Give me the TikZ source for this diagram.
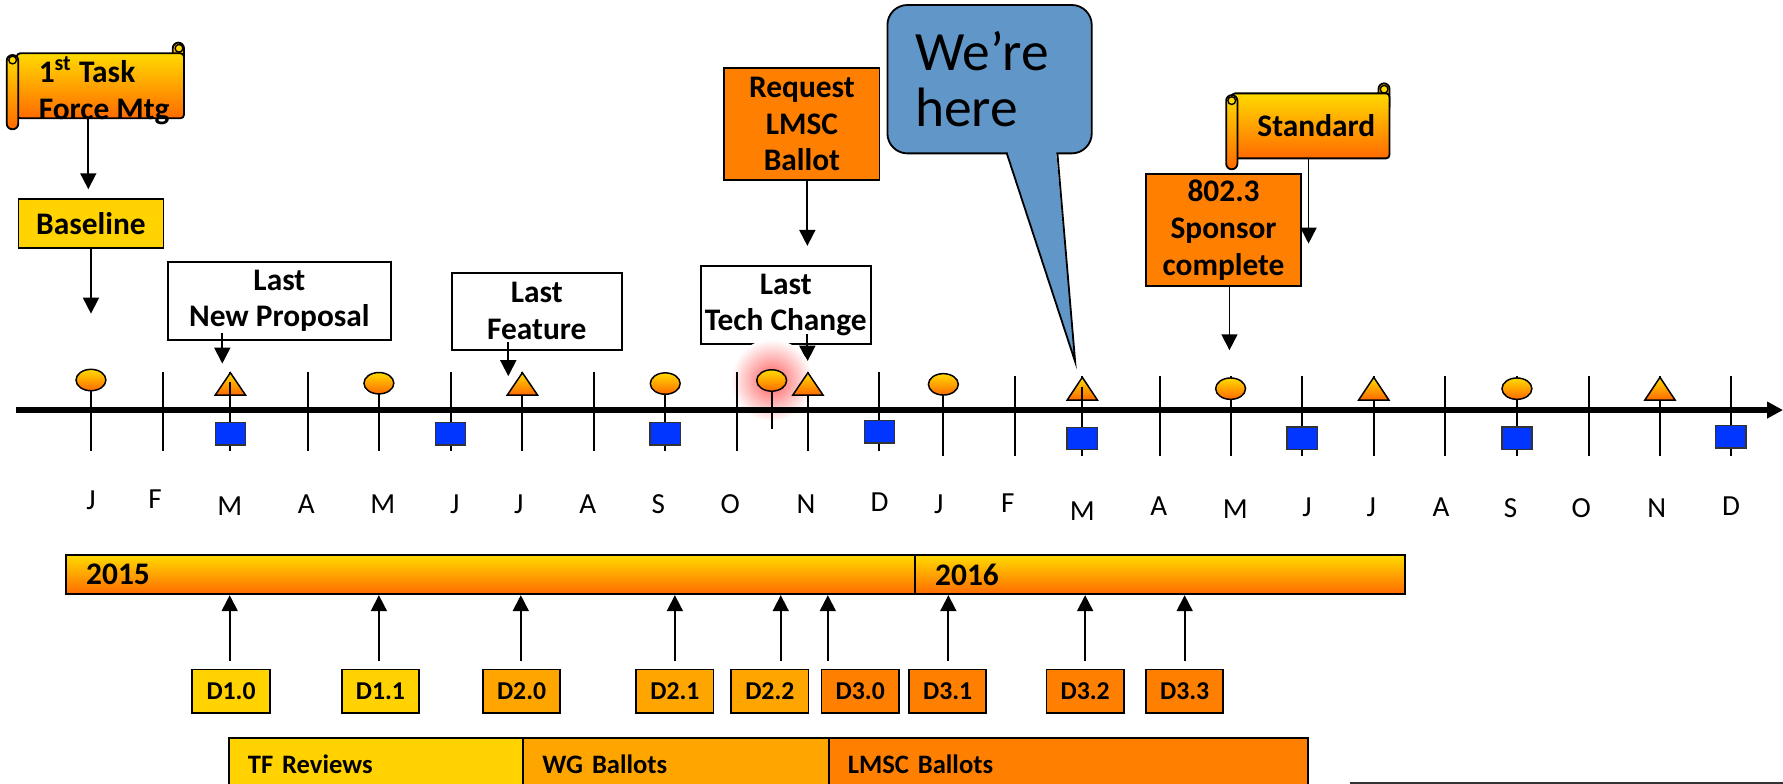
\documentclass[tikz,border=0pt]{standalone}
\usepackage{fontspec}
\setmainfont{Carlito}
\usetikzlibrary{arrows.meta, shapes.geometric, positioning}

\definecolor{gold}{HTML}{FFD200}
\definecolor{amber}{HTML}{FFA500}
\definecolor{tangerine}{HTML}{FF7F00}
\definecolor{rolltop}{HTML}{FFDA00}
\definecolor{rollbot}{HTML}{FF6A00}
\definecolor{sqblue}{HTML}{0036FF}
\definecolor{bubble}{HTML}{6196C8}

\begin{document}
\begin{tikzpicture}[
    x=0.5pt, y=-0.5pt,
    font=\fontsize{13.8}{16.2}\selectfont\bfseries,
    box/.style = {
        rectangle, draw=black, line width=0.8pt, fill=white,
        align=center, inner sep=0pt
    },
    goldbox/.style = {box, fill=gold},
    amberbox/.style = {box, fill=amber},
    orangebox/.style = {box, fill=tangerine},
    rollfill/.style = {draw=black, line width=0.8pt, top color=rolltop, bottom color=rollbot},
    draftbox/.style = {box, minimum width=34pt, minimum height=19.3pt,
        font=\fontsize{11.3}{13}\selectfont\bfseries},
    yearbar/.style = {rollfill, rectangle, anchor=north west, minimum height=17.3pt,
        inner xsep=9pt, inner ysep=0pt, align=left},
    phase/.style = {rectangle, draw=black, line width=0.8pt, anchor=north west,
        minimum height=23.5pt, inner xsep=8.4pt, inner ysep=0pt, align=left,
        font=\fontsize{11.7}{13}\selectfont\bfseries},
    month/.style = {anchor=base, font=\fontsize{12.8}{14}\selectfont\mdseries},
    mtick/.style = {line width=0.9pt},
    bead/.style = {ellipse, draw=black, line width=0.65pt, top color=rolltop,
        bottom color=rollbot, minimum width=13.15pt, minimum height=9.4pt, inner sep=0pt},
    blk/.style = {rectangle, draw=black!80, line width=0.65pt, fill=sqblue,
        minimum width=13.3pt, minimum height=9.85pt, inner sep=0pt},
    arr/.style = {-{Triangle[length=7pt, width=7pt]}, line width=0.8pt},
]

\useasboundingbox (0,0) rectangle (1568,689);

% Scrolls
\draw[rollfill, rounded corners=2.5pt] (151.9,37.5) rectangle (161.8,62);
\node[rollfill, rectangle, rounded corners=1.5pt, minimum width=73.55pt, minimum height=28.55pt,
    inner sep=0pt] (tf) at (88.25,75.45) {};
\node[anchor=west, align=left, inner sep=0pt] (tftxt) at (33.7,79.7)
    {1\textsuperscript{st} Task\\Force Mtg};
\draw[rollfill, rounded corners=2.5pt] (5.9,48.4) rectangle (16.1,113.7);
\draw[line width=0.6pt, fill=rolltop] (11.1,52.8) circle (3.4);
\draw[line width=0.6pt, fill=rolltop] (157.4,42.5) circle (3.4);

\draw[rollfill, rounded corners=2.5pt] (1212.2,73.3) rectangle (1222,98);
\node[rollfill, rectangle, rounded corners=1.5pt, minimum width=69.35pt, minimum height=28.6pt,
    inner sep=0pt] (std) at (1152.55,110.7) {\hspace*{5pt}Standard};
\draw[rollfill, rounded corners=2.5pt] (1078.3,83.6) rectangle (1088.2,148.9);
\draw[line width=0.6pt, fill=rolltop] (1083.2,88.5) circle (3.4);
\draw[line width=0.6pt, fill=rolltop] (1217.2,78.5) circle (3.4);

% Boxes above the time line
\node[goldbox, minimum width=63.75pt, minimum height=21.7pt] (baseline) at (80,196.7) {Baseline};
\node[box, minimum width=98.2pt, minimum height=34.45pt] (newprop) at (245.7,264.5) {Last\\New Proposal};
\node[box, minimum width=74.9pt, minimum height=34pt] (feature) at (472.1,273.8) {Last\\Feature};
\node[orangebox, minimum width=68.2pt, minimum height=49.25pt] (request) at (705.2,109) {Request\\LMSC\\Ballot};
\node[box, minimum width=74.75pt, minimum height=34.25pt] (techchg) at (691,268.25) {Last\\Tech Change};
\node[orangebox, minimum width=68.15pt, minimum height=49.25pt] (sponsor) at (1076,202.25) {802.3\\Sponsor\\complete};

% Callout
\node[rectangle, rounded corners=8.8pt, draw=black, line width=0.8pt, fill=bubble,
    minimum width=89.85pt, minimum height=65.25pt, inner xsep=12.15pt, inner ysep=0pt,
    text width=65.55pt, align=left, font=\fontsize{24.4}{25}\selectfont\mdseries]
    (here) at (870.25,69.65) {We’re\\here};
\fill[bubble] (886.3,132.5) -- (886.3,136) -- (945.5,318.1) -- (929,136) -- (929,132.5) -- cycle;
\draw[line width=0.8pt, line join=miter] (885.4,134.9) -- (945.5,318.1) -- (929.9,134.9);

% Arrows to the time line
\draw[arr] ([xshift=-5.3pt]tf.south) -- ++(0,61.6);
\draw[arr] (baseline.south) -- ++(0,56.6);
\draw[arr] ([xshift=-25.1pt,yshift=3.65pt]newprop.south) -- ++(0,27.3);
\draw[arr] ([xshift=-12.55pt,yshift=3.9pt]feature.south) -- ++(0,30);
\draw[arr] ([xshift=2.4pt]request.south) -- ++(0,57.2);
\draw[arr] ([xshift=9.5pt,yshift=4.75pt]techchg.south) -- ++(0,24.2);
\draw[arr] ([xshift=-0.9pt]std.south) -- ++(0,74.1);
\draw[arr] ([xshift=2.6pt]sponsor.south) -- ++(0,55.7);

% Time line
\shade[inner color=red!65, outer color=white] (678.6,334.6) circle (36);
\draw[-{Triangle[length=7pt, width=7pt]}, line width=2.35pt] (14,360.6) -- (1568,360.6);
\foreach \x in {80,143.5,202.6,271,333.2,396.2,459.4,522.7,585,648.2,710.5,773.4}
    \draw[mtick] (\x,327) -- (\x,397);
\foreach \x in {829.6,892.2,951.8,1019.8,1082.2,1145.3,1208.1,1270.5,1334,1397,1459.8,1522}
    \draw[mtick] (\x,331) -- (\x,401);
\draw[mtick] (678.6,334.6) -- (678.6,377);

\foreach \x/\y [count=\k] in {80/334.2, 333.2/337, 585/337.3, 678.6/334.6,
        829.6/338, 1082.2/341.8, 1334/341.8}
    \node[bead] (bead\k) at (\x,\y) {};
\foreach \x/\ya/\yb in {202.6/327.8/347.4, 459.4/327.8/347.4, 710.5/327.8/347.4,
        951.8/331.8/351.8, 1208.1/331.8/351.8, 1459.8/331.8/351.8}
    \draw[rollfill, line width=0.65pt] (\x-13.3,\yb) -- (\x+13.3,\yb) -- (\x,\ya) -- cycle;
\draw[mtick] (202.6,336) -- (202.6,347.4);
\draw[mtick] (951.8,340) -- (951.8,351.8);
\foreach \x/\y [count=\k] in {202.6/381.5, 396.2/381.5, 585/381.5, 773.4/379.6,
        951.8/385.6, 1145.3/385.5, 1334/385.5, 1522/384}
    \node[blk] (blk\k) at (\x,\y) {};

% Months
\foreach \x/\m/\y [count=\k] in {80/J/448.5, 136.3/F/447, 202/M/453, 269.3/A/451.5,
        336.6/M/452, 399.9/J/451.5, 456.1/J/451.5, 517/A/451.5, 578.9/S/452,
        642.1/O/452, 708.8/N/452, 773.4/D/450, 825.6/J/452, 886.2/F/451,
        951.8/M/458, 1019.1/A/453.5, 1086.4/M/456, 1149.5/J/454.5, 1205.8/J/454.5,
        1267.3/A/454.5, 1328.4/S/455, 1390.5/O/455, 1456.9/N/455, 1522.3/D/453}
    \node[month] (mon\k) at (\x,\y) {\m};

% Years
\node[yearbar, minimum width=373.3pt, text width=355.3pt] (y15) at (57,487.2) {2015};
\node[yearbar, minimum width=215.45pt, text width=197.45pt] (y16) at (803.6,487.2) {2016};

% Drafts
\node[draftbox, fill=gold] (d10) at (203.2,608) {D1.0};
\node[draftbox, fill=gold] (d11) at (334.5,608) {D1.1};
\node[draftbox, fill=amber] (d20) at (458.7,608) {D2.0};
\node[draftbox, fill=amber] (d21) at (593.5,608) {D2.1};
\node[draftbox, fill=amber] (d22) at (677,608) {D2.2};
\node[draftbox, fill=tangerine] (d30) at (756.5,608) {D3.0};
\node[draftbox, fill=tangerine] (d31) at (833.4,608) {D3.1};
\node[draftbox, fill=tangerine] (d32) at (954.3,608) {D3.2};
\node[draftbox, fill=tangerine] (d33) at (1041.8,608) {D3.3};

\foreach \d/\s in {d10/-0.6, d11/-0.65, d20/-0.35, d21/0, d22/4.8, d30/-14.25,
        d31/0.3, d32/0, d33/0}
    \draw[arr] ([xshift=\s pt, yshift=3.35pt]\d.north) -- ([xshift=\s pt]\d.north |- y15.south);

% Phases
\node[phase, fill=gold, minimum width=129.5pt, text width=112.7pt] (tfrev) at (200.4,647.9) {TF Reviews};
\node[phase, fill=amber, minimum width=134.3pt, text width=117.5pt] (wgbal) at (459.4,647.9) {WG Ballots};
\node[phase, fill=tangerine, minimum width=210.75pt, text width=193.95pt] (lmscbal) at (728,647.9) {LMSC Ballots};

\node[rectangle, draw=black!80, line width=0.9pt, anchor=north west, minimum width=250pt,
    minimum height=30pt, inner sep=0pt] (legend) at (1187,687.5) {};

\end{tikzpicture}
\end{document}
